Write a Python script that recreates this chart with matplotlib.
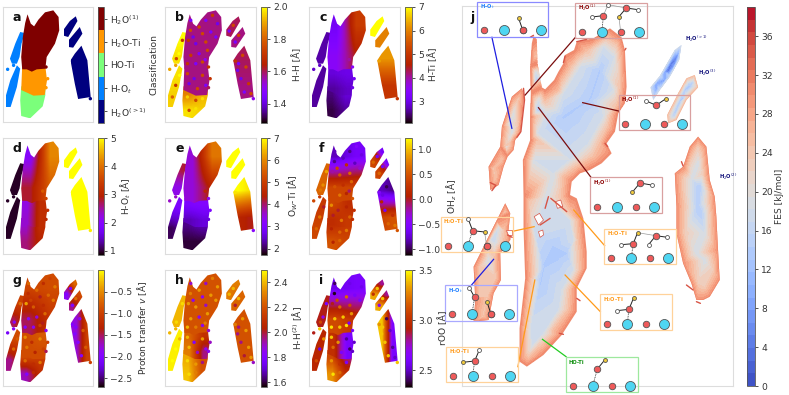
import numpy as np
import matplotlib
matplotlib.use('Agg')
import matplotlib.pyplot as plt
from matplotlib.patches import Polygon, Rectangle
from matplotlib.colors import ListedColormap

W, H = 789, 395

# outlines of the clusters in the small maps
seg_upper = [(82,42),(92,70),(102,78),(115,58),(135,36),(160,30),(176,50),(178,90),(165,130),(140,170),(136,205),(110,207),(95,214),(80,207),(66,207),(63,170),(68,110),(75,68)]
seg_mid   = [(66,198),(136,198),(141,240),(134,284),(100,286),(85,279),(63,269)]
seg_low   = [(63,258),(136,258),(136,285),(128,318),(90,354),(63,347),(60,300)]
seg_ot_up = [(60,95),(74,98),(64,130),(58,170),(50,190),(35,190),(29,175),(45,130)]
seg_ot_lo = [(50,195),(60,205),(50,260),(31,320),(17,320),(17,285),(30,240)]
seg_pair1 = [(228,48),(233,62),(205,110),(191,106),(191,88),(210,62)]
seg_pair2 = [(240,80),(248,100),(220,142),(206,140),(206,120)]
seg_big   = [(245,136),(263,180),(273,290),(235,296),(225,250),(212,180),(225,160)]
segments = [seg_upper, seg_mid, seg_low, seg_ot_up, seg_ot_lo, seg_pair1, seg_pair2, seg_big]

# single scattered points that stand out from their surroundings
speck_x = [85,84,78,92,110,130,150,165,120,145,100,130,160,85,110,135,75,100,120,
           75,95,120,130,80,105, 75,100,120,80,100, 60,50,42,40,30,52, 212,200,228,218,
           240,228,250,235,258,245,265,225, 22,40,138,143,128,138,272,218]
speck_y = [60,90,120,110,80,60,45,70,100,95,130,125,110,165,160,150,190,190,185,
           220,235,225,255,250,265, 290,300,295,330,325, 120,160,175,255,290,225, 75,92,105,125,
           165,190,200,235,250,275,280,210, 207,195,200,235,178,262,295,182]
speck_a = [1,1,4,3,4,3,0,0]
speck_b = [1.45,1.75,1.7,1.42,1.75,1.45,1.72,1.42,1.75,1.45,1.42,1.75,1.45,1.72,1.45,1.75,1.7,1.45,1.75,
           1.75,1.42,1.75,1.45,1.42,1.75, 1.95,1.75,1.97,1.75,1.97, 1.7,2.0,1.75,1.7,1.8,2.0, 1.75,1.45,1.75,1.45,
           1.75,1.45,1.75,1.42,1.72,1.45,1.75,1.42, 1.9,1.9,1.7,1.7,1.5,1.6,1.5,1.7]
speck_c = [2.8,2.8,3.5,3.1,4,3,5,6.3]
speck_d = [0.95,0.95,3.5,3.2,3.8,3.1,4.9,5]
speck_e = [3.6,3.6,3.3,3,4.5,2.6,3.2,6.8]
speck_f = [-0.8,-0.9,-0.2,0.4,-0.8,-0.9,-0.5,-0.7,0.2,-0.8,0.5,0.6,-0.3,0.5,0.2,0.6,0.4,0.7,0.1,
           0.8,0,0.1,0.6,0,0.7, 0.1,0.6,0.7,0.1,0.6, 0.9,0.8,0.7,0.7,0.6,0, -0.6,0.6,-0.6,0.6,
           -1,-0.7,-0.5,-0.6,0.2,0.6,0.7,0.1, 0.4,0.3,0.5,0.2,-0.1,0.2,0.5,-0.5]
speck_g = [-0.7,-1.2,-0.4,-1,-0.7,-1.2,-1,-0.6,-1.4,-0.7,-0.8,-1.2,-0.6,-1.9,-1.8,-0.7,-2,-1.9,-1,
           -0.5,-1.2,-0.5,-1,-0.6,-1.3, -0.7,-1.2,-0.6,-2,-1.2, -0.7,-1.4,-1.9,-0.7,-1.6,-0.8, -2,-2,-0.7,-2,
           -1.9,-2,-0.8,-2,-0.8,-2,-1,-2, -2.1,-1.9,-1.9,-1,-1.4,-1.5,-1,-2]
speck_h = [1.9,2.3,2.35,1.85,2.35,1.9,2.3,2.35,1.85,2.35,2.35,1.9,2.35,2.35,1.85,2.35,2.4,2.3,1.85,
           2.4,1.8,2.35,1.85,2.4,1.9, 2.45,2.35,1.95,2.45,2.3, 2.45,2.4,2.45,2.5,2.5,2.4, 2.4,2.4,2.4,2,
           2.35,1.95,2.35,1.95,2.35,2,2.35,1.95, 2.4,2.4,1.9,1.9,2.3,1.85,1.9,2.3]
speck_i = [2.4,2.35,2.9,3.1,2.6,2.55,2.6,2.55,3.2,2.6,3.2,3.1,2.6,3.4,3.4,3.3,3.45,3.4,3.45,
           3.4,3.3,2.45,2.4,3.2,2.6, 3.3,3,2.6,3.45,3.2, 2.6,2.7,3.1,2.55,3.1,3.3, 3.4,3,3.4,2.7,
           2.4,3.4,2.5,3.4,2.45,3.4,2.5,3.4, 2.9,3.4,2.6,2.5,2.6,2.5,3.4,3.3]
panel_specks = [speck_a,speck_b,speck_c,speck_d,speck_e,speck_f,speck_g,speck_h,speck_i]

# values per segment: top left, top right, bottom left, bottom right
vals_a = [(4,4,4,4),(3,3,3,3),(2,2,2,2),(1,1,1,1),(1,1,1,1),(0,0,0,0),(0,0,0,0),(0,0,0,0)]
vals_b = [(1.58,1.58,1.58,1.58),(1.58,1.58,1.58,1.58),(1.85,1.92,1.97,1.95),(2,2,1.97,1.97),(1.97,1.97,1.95,1.95),(1.6,1.6,1.6,1.6),(1.58,1.58,1.58,1.58),(1.6,1.6,1.58,1.58)]
vals_c = [(3.1,5.1,3.5,4.5),(2.9,3,2.6,2.8),(2.5,2.9,2.3,2.6),(2.65,2.65,2.65,2.65),(2.6,2.6,2.6,2.6),(7,7,7,7),(6,6,6,6),(6.2,6.2,5,5)]
vals_d = [(2,4.2,2.8,3.8),(2.2,3.2,2.3,3.2),(2.3,3.2,2.6,3),(0.95,0.95,0.95,0.95),(0.95,0.95,0.95,0.95),(5,5,5,5),(5,5,5,5),(5,5,5,5)]
vals_e = [(3.5,5.8,3.5,4.5),(3,3.1,2.4,2.6),(2.2,2.4,1.9,1.9),(4,4.2,3.4,3.4),(3,3,2,2.2),(7,7,7,7),(7,7,7,7),(7,6.8,4.5,4.3)]
vals_f = [(-0.8,-0.6,0.4,0.4),(0.4,0.2,0.2,0.3),(0.2,0.3,0.5,0.4),(0.6,0.6,0.6,0.6),(0.3,0.3,0.4,0.4),(0.3,-0.6,0.4,0.3),(0.3,-0.6,0.4,0.3),(-0.8,-0.9,0.4,0.5)]
vals_g = [(-0.95,-0.9,-1.5,-1.1),(-0.9,-0.8,-0.9,-0.9),(-0.9,-1,-1.7,-1.2),(-1,-1,-1.5,-1.3),(-0.9,-0.9,-1.6,-1.4),(-1.3,-0.7,-1.9,-1.3),(-1,-0.9,-1.6,-1.2),(-1.8,-1,-1.8,-1)]
vals_h = [(2.2,2.2,2.2,2.2),(2.25,2.1,2.3,1.95),(2.38,2.2,2.42,2.2),(2.4,2.4,2.4,2.4),(2.48,2.48,2.48,2.48),(2.3,2.3,2.3,2.25),(2.25,2.25,2.25,2.25),(2.2,2.2,2.2,2.2)]
vals_i = [(2.55,2.6,3.1,3),(3,2.6,3,2.6),(3.1,2.8,3.3,3),(2.9,2.9,2.9,2.9),(2.95,2.95,2.95,2.95),(3,2.8,3.35,3.3),(3,2.8,3.35,3.3),(3.4,2.6,3.4,2.6)]

letters = ['a','b','c','d','e','f','g','h','i']
panel_vals = [vals_a,vals_b,vals_c,vals_d,vals_e,vals_f,vals_g,vals_h,vals_i]
vmins = [-0.5,1.28,2.08,0.85,1.71,-1.11,-2.7,1.56,2.33]
vmaxs = [4.5,2.0,7.0,5.0,7.0,1.22,0.0,2.5,3.5]
cbar_labels = ['Classification','H-H [Å]','H-Ti [Å]','H-O$_t$ [Å]','O$_W$-Ti [Å]','OH$_z$ [Å]','Proton transfer $v$ [Å]','H-H$^{(2)}$ [Å]','rOO [Å]']
cbar_ticks = [[0,1,2,3,4],[1.4,1.6,1.8,2.0],[3,4,5,6,7],[1,2,3,4,5],[2,3,4,5,6,7],[-1,-0.5,0,0.5,1],[-2.5,-2,-1.5,-1,-0.5],[1.6,1.8,2.0,2.2,2.4],[2.5,3.0,3.5]]
class_labels = ['H$_2$O$^{(>1)}$','H-O$_t$','HO-Ti','H$_2$O-Ti','H$_2$O$^{(1)}$']
col_px = [(3,93,98,104),(165,256,261,267),(309,400,405,412)]
row_px = [(7,122),(138,254),(270,386)]
label_x = [154,297,433,126,293,452,142,297,443]

# free energy surface: rings of (level, outline)
fes_main = [
 (31,[(310,108),(320,118),(322,190),(335,262),(345,268),(372,240),(385,215),(400,190),(405,165),(432,150),(440,125),(490,115),(540,85),(575,112),(585,150),(590,260),(585,310),(565,340),(555,395),(530,430),(545,460),(515,490),(480,510),(450,520),(425,545),(420,585),(440,595),(460,655),(470,755),(470,805),(440,865),(440,935),(395,1005),(340,1065),(290,1100),(268,1085),(268,985),(285,835),(280,685),(280,590),(278,480),(300,420),(300,350),(302,280),(300,200),(305,130)]),
 (25,[(313,170),(322,250),(345,300),(385,270),(420,200),(470,150),(530,110),(562,130),(572,260),(560,320),(535,380),(510,430),(490,470),(440,500),(400,530),(395,590),(425,640),(445,720),(450,810),(420,870),(415,930),(370,990),(320,1050),(295,1075),(285,1000),(300,840),(298,690),(295,600),(295,480),(318,420),(315,350)]),
 (18,[(316,215),(325,300),(350,340),(400,280),(450,200),(520,140),(553,170),(550,270),(520,350),(475,430),(420,480),(370,520),(350,590),(420,660),(432,720),(430,810),(395,870),(385,930),(340,1000),(305,1040),(300,990),(315,840),(310,690),(312,480),(322,400)]),
 (14,[(318,240),(322,330),(400,350),(430,330),(510,210),(480,300),(385,775),(410,760),(340,800),(370,740),(330,850)]),
]
fes_ot = [
 (30,[(275,265),(282,285),(278,330),(270,400),(255,420),(250,450),(232,470),(220,500),(205,555),(180,570),(175,500),(210,440),(215,380),(245,290)]),
 (24,[(265,295),(265,370),(240,430),(215,480),(195,535),(188,505),(222,440),(228,370)]),
 (18,[(250,340),(245,400),(225,440),(235,370)]),
]
fes_ot2 = [
 (30,[(225,610),(240,640),(235,690),(245,700),(240,720),(210,760),(212,840),(190,880),(175,960),(130,965),(135,900),(130,800),(150,760),(165,730),(200,660)]),
 (24,[(224,635),(222,690),(192,770),(197,835),(172,890),(158,950),(145,890),(147,800),(172,740)]),
 (18,[(205,680),(195,730),(175,780),(180,720)]),
]
fes_pair1 = [
 (17,[(755,135),(748,180),(720,230),(690,270),(670,300),(662,262),(690,228),(735,150)]),
 (8,[(745,165),(735,195),(705,240),(680,265),(680,250),(705,215)]),
 (4,[(738,175),(735,195),(715,215),(720,195)]),
]
fes_pair2 = [
 (25,[(795,225),(805,262),(770,300),(740,360),(715,370),(712,345),(745,280),(770,235)]),
 (16,[(790,245),(765,295),(735,350),(728,345),(755,285),(775,250)]),
 (13,[(780,260),(760,295),(750,305),(765,270)]),
]
fes_big = [
 (30,[(805,410),(830,440),(840,540),(855,590),(860,650),(865,750),(870,840),(840,890),(820,900),(800,900),(785,850),(760,790),(740,700),(740,620),(735,520),(760,500),(780,440)]),
 (23,[(805,440),(820,520),(835,600),(840,700),(850,810),(825,860),(805,850),(780,770),(765,700),(762,560),(780,490)]),
 (18,[(805,490),(820,600),(825,700),(825,780),(800,760),(785,660),(785,540)]),
 (14,[(812,560),(815,640),(805,620),(805,570)]),
]
fes_blobs = [fes_main, fes_ot, fes_ot2, fes_pair1, fes_pair2, fes_big]
fes_holes = [[(312,650),(328,640),(340,660),(325,675)],[(325,695),(338,690),(340,705),(330,712)],[(376,605),(392,600),(398,620),(382,625)],[(226,690),(246,690),(246,705),(232,705)]]
fes_edges = [
 [(280,265),(283,300),(272,395),(260,412)],[(300,112),(310,106)],[(180,548),(197,556),(185,572)],[(525,430),(533,440)],[(585,150),(588,145)],
 [(755,485),(760,498)],[(800,905),(812,910)],[(388,1000),(400,1003)],[(440,895),(450,902)],[(330,675),(360,655)],[(362,595),(410,635)],[(232,705),(246,712)],
 [(355,590),(345,625)],[(770,855),(790,870)],[(400,188),(405,168)],[(440,125),(470,118)],
]

# insets of j: box, colour, label, surface row height, O, H, yellow H, bonds
o_col, ti_col, h_yellow = '#ee5a5a', '#4fd6f2', '#f0c93c'
ins_boxes = [(140,5,355,112),(436,8,650,115),(566,284,781,391),(480,532,695,639),(31,650,247,756),(523,686,740,793),(45,856,260,963),(511,883,727,991),(47,1040,263,1146),(408,1070,624,1177)]
ins_cols = ['#8a8aff','#d9a0a0','#d9a0a0','#d9a0a0','#ffd29a','#ffd29a','#a9a9ff','#ffd29a','#ffd29a','#9ee89e']
ins_labels = ['H-O$_t$','H$_2$O$^{(1)}$','H$_2$O$^{(1)}$','H$_2$O$^{(1)}$','H$_2$O-Ti','H$_2$O-Ti','H-O$_t$','H$_2$O-Ti','H$_2$O-Ti','HO-Ti']
ins_textcols = ['#1e7fff','#8b0000','#8b0000','#8b0000','#ff9a1a','#ff9a1a','#1e7fff','#ff9a1a','#ff9a1a','#0f8f0f']
ins_surf_x = [160,455,585,500,52,543,65,531,67,428]
ins_surf_y = [91,95,373,620,737,774,942,972,1128,1158]
ins_oxy = [[(278,91)],[(520,47),(589,24)],[(679,316)],[(630,549)],[(127,692),(169,737)],[(610,731),(678,707)],[(133,892),(182,942)],[(597,928)],[(133,1083)],[(502,1107)]]
ins_white = [[],[(485,51),(534,14),(624,29)],[(647,302)],[(665,555)],[(114,658)],[(574,734),(713,712),(656,734)],[(117,863)],[(561,932)],[(147,1050)],[]]
ins_yellow = [[(265,54)],[(567,50)],[(708,296)],[(607,577)],[(163,696)],[(623,698)],[(170,905)],[(611,894)],[(97,1087)],[(525,1079)]]
ins_solid = [[((278,91),(265,54))],[((520,47),(485,51)),((589,24),(624,29)),((589,24),(567,50))],[((679,316),(647,302)),((679,316),(708,296))],[((630,549),(665,555)),((630,549),(607,577))],[((127,692),(114,658)),((127,692),(163,696))],[((610,731),(574,734)),((610,731),(623,698)),((678,707),(713,712)),((678,707),(656,734))],[((133,892),(117,863)),((182,942),(170,905))],[((597,928),(561,932)),((597,928),(611,894))],[((133,1083),(147,1050)),((133,1083),(97,1087))],[((502,1107),(525,1079))]]
ins_dash = [[],[((520,47),(516,94))],[],[],[((127,692),(112,737))],[((610,731),(604,774))],[((133,892),(125,942))],[((597,928),(592,972))],[((133,1083),(127,1128))],[((502,1107),(488,1158))]]
ins_thin = [[],[((520,47),(534,14)),((534,14),(589,24)),((567,50),(572,95))],[],[],[((163,696),(169,737))],[((623,698),(678,707))],[],[],[],[]]

leaders = [((185,112),(245,385),'#1f1fe0'),((436,112),(285,285),'#7a0d0d'),((458,308),(566,333),'#7a0d0d'),((325,323),(483,532),'#7a0d0d'),
           ((247,694),(312,680),'#ff9a1a'),((431,630),(524,737),'#ff9a1a'),((190,778),(122,857),'#1f1fe0'),((405,825),(511,935),'#ff9a1a'),((314,840),(263,1100),'#ff9a1a'),((337,1018),(408,1070),'#22cc22')]
side_text = [(765,118,'H$_2$O$^{(>1)}$'),(806,218,'H$_2$O$^{(3)}$'),(867,530,'H$_2$O$^{(2)}$')]

fes_levels = np.linspace(0,39,31)
fes_ticks = [0,4,8,12,16,20,24,28,32,36]


def px_axes(fig, x0, x1, y0, y1):
    return fig.add_axes([x0/W, 1-y1/H, (x1-x0)/W, (y1-y0)/H])


plt.rcParams['font.size'] = 6.6
plt.rcParams['text.color'] = '#333333'
plt.rcParams['axes.labelcolor'] = '#333333'
plt.rcParams['xtick.color'] = '#333333'
plt.rcParams['ytick.color'] = '#333333'
fig = plt.figure(figsize=(W/100, H/100), dpi=100)

jet5 = ListedColormap(plt.get_cmap('jet', 5)(np.arange(5)))
for n in range(9):
    x0, x1, cx0, cx1 = col_px[n % 3]
    y0, y1 = row_px[n // 3]
    ax = px_axes(fig, x0, x1, y0, y1)
    cmap = jet5 if n == 0 else 'gnuplot'
    im = None
    # lower body first, so the overlap at the seams goes to the upper one
    for k in range(len(segments)-1, -1, -1):
        seg = segments[k]
        v = panel_vals[n][k]
        xs = [p[0] for p in seg]
        ys = [p[1] for p in seg]
        im = ax.imshow(np.array([[v[0],v[1]],[v[2],v[3]]]), extent=(min(xs),max(xs),max(ys),min(ys)),
                       cmap=cmap, vmin=vmins[n], vmax=vmaxs[n], aspect='auto',
                       interpolation='nearest' if n == 0 else 'bilinear')
        patch = Polygon(seg, transform=ax.transData, fc='none', ec='none')
        ax.add_patch(patch)
        im.set_clip_path(patch)
    spk = panel_specks[n]
    ax.scatter(speck_x[-len(spk):], speck_y[-len(spk):], c=spk, s=6, linewidths=0, cmap=cmap, vmin=vmins[n], vmax=vmaxs[n], zorder=3)
    ax.set_xlim(8,280)
    ax.set_ylim(365,20)
    ax.set_xticks([])
    ax.set_yticks([])
    for s in ax.spines.values():
        s.set_color('#dddddd')
    ax.text(0.11, 0.91, letters[n], transform=ax.transAxes, fontsize=9, fontweight='bold', color='#111111', ha='left', va='center')

    cax = px_axes(fig, cx0, cx1, y0, y1+1)
    cb = fig.colorbar(im, cax=cax)
    cb.set_ticks(cbar_ticks[n])
    if n == 0:
        cb.set_ticklabels(class_labels)
    cb.ax.tick_params(length=2.5, width=0.6, pad=2)
    cb.outline.set_edgecolor('#555555')
    cb.outline.set_linewidth(0.6)
    fig.text(label_x[n]/W, 1-(y0+y1)/2/H, cbar_labels[n], rotation=90, ha='center', va='center')

# FES panel
ax = px_axes(fig, 462, 733, 6, 386)
ax.set_xlim(95,910)
ax.set_ylim(1158,18)
ax.set_xticks([])
ax.set_yticks([])
for s in ax.spines.values():
    s.set_color('#dddddd')

cf = None
for blob in fes_blobs:
    px, py, pv = [], [], []
    for level, ring in blob:
        px += [p[0] for p in ring]
        py += [p[1] for p in ring]
        pv += [level]*len(ring)
    cf_one = ax.tricontourf(px, py, pv, levels=fes_levels, cmap='coolwarm', vmin=0, vmax=39, extend='neither', antialiased=False)
    patch = Polygon(blob[0][1], transform=ax.transData, fc='none', ec='none')
    ax.add_patch(patch)
    cf_one.set_clip_path(patch)
    if cf is None:
        cf = cf_one

edge_col = plt.get_cmap('coolwarm')(35/39)
for e in fes_edges:
    ax.plot([p[0] for p in e], [p[1] for p in e], color=edge_col, lw=1.0, solid_capstyle='round')
for hole in fes_holes:
    ax.add_patch(Polygon(hole, fc='white', ec=edge_col, lw=0.5))

for a, b, c in leaders:
    ax.plot([a[0],b[0]], [a[1],b[1]], color=c, lw=0.9, clip_on=False, zorder=4)

for t in side_text:
    ax.text(t[0], t[1], t[2], color='#10107a', fontsize=3.8, fontweight='bold', va='center', clip_on=False)

for i in range(len(ins_boxes)):
    bx0, by0, bx1, by1 = ins_boxes[i]
    ax.add_patch(Rectangle((bx0,by0), bx1-bx0, by1-by0, fc='none', ec=ins_cols[i], lw=0.9, clip_on=False, zorder=5))
    ax.text(bx0+8, by0+16, ins_labels[i], color=ins_textcols[i], fontsize=3.8, fontweight='bold', va='center', clip_on=False, zorder=8)
    for a, b in ins_solid[i]:
        ax.plot([a[0],b[0]], [a[1],b[1]], color='#222222', lw=0.7, clip_on=False, zorder=6)
    for a, b in ins_dash[i]:
        ax.plot([a[0],b[0]], [a[1],b[1]], color='#222222', lw=0.6, ls=(0,(1,1)), clip_on=False, zorder=6)
    for a, b in ins_thin[i]:
        ax.plot([a[0],b[0]], [a[1],b[1]], color='#999999', lw=0.5, clip_on=False, zorder=6)
    sx = ins_surf_x[i]
    sy = ins_surf_y[i]
    ax.scatter([sx, sx+117], [sy, sy], s=22, c=o_col, edgecolors='#555555', linewidths=0.6, clip_on=False, zorder=7)
    ax.scatter([sx+60, sx+172], [sy, sy], s=52, c=ti_col, edgecolors='#555555', linewidths=0.6, clip_on=False, zorder=7)
    ax.scatter([p[0] for p in ins_oxy[i]], [p[1] for p in ins_oxy[i]], s=22, c=o_col, edgecolors='#555555', linewidths=0.6, clip_on=False, zorder=7)
    if ins_white[i]:
        ax.scatter([p[0] for p in ins_white[i]], [p[1] for p in ins_white[i]], s=8, c='white', edgecolors='#555555', linewidths=0.6, clip_on=False, zorder=7)
    ax.scatter([p[0] for p in ins_yellow[i]], [p[1] for p in ins_yellow[i]], s=8, c=h_yellow, edgecolors='#555555', linewidths=0.6, clip_on=False, zorder=7)

ax.text(120, 52, 'j', fontsize=9, fontweight='bold', color='#111111', ha='left', va='center')

cax = px_axes(fig, 747, 755, 7, 386)
cb = fig.colorbar(cf, cax=cax)
cb.set_ticks(fes_ticks)
cb.ax.tick_params(length=2.5, width=0.6, pad=2)
cb.outline.set_edgecolor('#555555')
cb.outline.set_linewidth(0.6)
fig.text(779/W, 1-196/H, 'FES [kJ/mol]', rotation=90, ha='center', va='center')

fig.savefig('out.png', dpi=100)
